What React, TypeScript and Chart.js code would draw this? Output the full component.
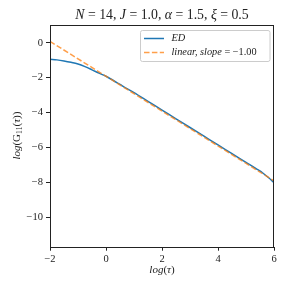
import React, { useEffect, useRef } from "react";
import { Chart, registerables } from "chart.js";
Chart.register(...registerables);

const edLogTau = [-2, -1.75, -1.5, -1.25, -1, -0.75, -0.5, -0.25, 0, 0.25, 0.5, 0.75, 1, 1.5, 2, 2.5, 3, 3.5, 4, 4.5, 5, 5.4, 5.6, 5.8, 6];
const edLogG = [-0.95, -0.98, -1.04, -1.12, -1.22, -1.37, -1.55, -1.74, -1.92, -2.15, -2.39, -2.63, -2.86, -3.36, -3.86, -4.36, -4.86, -5.36, -5.86, -6.36, -6.86, -7.26, -7.47, -7.73, -8.02];
const fitLogTau = [-2, 6];
const fitLogG = [0.08, -7.92];
const xTicks = [-2, 0, 2, 4, 6];
const yTicks = [-10, -8, -6, -4, -2, 0];

const FAMILY = "'Liberation Serif', 'DejaVu Serif', serif";
const BLUE = "#1f77b4";
const ORANGE = "rgba(255,127,14,0.75)";

type Seg = { t: string; it?: boolean; sub?: boolean };

function segFont(s: Seg, size: number) {
  return `${s.it ? "italic " : ""}${s.sub ? size * 0.7 : size}px ${FAMILY}`;
}

function drawRich(ctx: CanvasRenderingContext2D, segs: Seg[], x: number, y: number, size: number, align: "center" | "left") {
  let total = 0;
  const widths = segs.map((s) => {
    ctx.font = segFont(s, size);
    const w = ctx.measureText(s.t).width;
    total += w;
    return w;
  });
  let cx = align === "center" ? x - total / 2 : x;
  ctx.textBaseline = "middle";
  ctx.textAlign = "left";
  segs.forEach((s, i) => {
    ctx.font = segFont(s, size);
    ctx.fillText(s.t, cx, s.sub ? y + size * 0.25 : y);
    cx += widths[i];
  });
}

const decorPlugin = {
  id: "decor",
  afterDraw(chart: any) {
    const ctx: CanvasRenderingContext2D = chart.ctx;
    const a = chart.chartArea;
    ctx.save();
    ctx.strokeStyle = "#222";
    ctx.lineWidth = 1;
    ctx.strokeRect(Math.round(a.left) + 0.5, Math.round(a.top) + 0.5, Math.round(a.right - a.left) - 1, Math.round(a.bottom - a.top));
    ctx.fillStyle = "#222";
    const cx = (a.left + a.right) / 2;
    drawRich(
      ctx,
      [
        { t: "N", it: true }, { t: " = 14, " },
        { t: "J", it: true }, { t: " = 1.0, " },
        { t: "α", it: true }, { t: " = 1.5, " },
        { t: "ξ", it: true }, { t: " = 0.5" },
      ],
      cx, 15, 13.8, "center"
    );
    drawRich(ctx, [{ t: "log", it: true }, { t: "(" }, { t: "τ", it: true }, { t: ")" }], cx, 270, 11, "center");
    ctx.save();
    ctx.translate(17, (a.top + a.bottom) / 2);
    ctx.rotate(-Math.PI / 2);
    drawRich(
      ctx,
      [{ t: "log", it: true }, { t: "(G" }, { t: "11", sub: true }, { t: "(" }, { t: "τ", it: true }, { t: "))" }],
      0, 0, 11, "center"
    );
    ctx.restore();
    const lx = 140, ly = 30, lw = 129.5, lh = 31;
    ctx.fillStyle = "rgba(255,255,255,0.8)";
    ctx.strokeStyle = "#cccccc";
    ctx.beginPath();
    (ctx as any).roundRect(lx + 0.5, ly + 0.5, lw, lh, 2);
    ctx.fill();
    ctx.stroke();
    ctx.lineWidth = 1.5;
    ctx.strokeStyle = BLUE;
    ctx.setLineDash([]);
    ctx.beginPath();
    ctx.moveTo(144, 38.5);
    ctx.lineTo(164, 38.5);
    ctx.stroke();
    ctx.strokeStyle = ORANGE;
    ctx.setLineDash([5.5, 2.4]);
    ctx.beginPath();
    ctx.moveTo(144, 52.5);
    ctx.lineTo(164, 52.5);
    ctx.stroke();
    ctx.setLineDash([]);
    ctx.fillStyle = "#222";
    drawRich(ctx, [{ t: "ED", it: true }], 171.5, 38.5, 10.3, "left");
    drawRich(ctx, [{ t: "linear, slope", it: true }, { t: " = −1.00" }], 171.5, 52.5, 10.3, "left");
    ctx.restore();
  },
};

const fmt = (v: number) => (v < 0 ? "−" + Math.abs(v) : String(v));

export default function App() {
  const ref = useRef<HTMLCanvasElement | null>(null);
  useEffect(() => {
    if (!ref.current) return;
    const chart = new Chart(ref.current, {
      type: "scatter",
      data: {
        datasets: [
          {
            label: "linear, slope = −1.00",
            data: fitLogTau.map((x, i) => ({ x, y: fitLogG[i] })),
            showLine: true,
            borderColor: ORANGE,
            borderWidth: 1.5,
            borderDash: [5.5, 2.4],
            pointRadius: 0,
          },
          {
            label: "ED",
            data: edLogTau.map((x, i) => ({ x, y: edLogG[i] })),
            showLine: true,
            borderColor: BLUE,
            borderWidth: 1.5,
            pointRadius: 0,
            cubicInterpolationMode: "monotone",
          },
        ],
      },
      options: {
        animation: false,
        responsive: false,
        maintainAspectRatio: false,
        devicePixelRatio: 1,
        layout: { padding: { top: 24.5, right: 14, left: 0, bottom: 0 } },
        plugins: { legend: { display: false }, tooltip: { enabled: false }, title: { display: false } },
        scales: {
          x: {
            type: "linear",
            min: -2,
            max: 6,
            afterFit: (s: any) => { s.height = 41.3; },
            afterBuildTicks: (s: any) => { s.ticks = xTicks.map((v) => ({ value: v })); },
            ticks: { callback: (v: any) => fmt(Number(v)), font: { family: FAMILY, size: 10.5 }, color: "#222", padding: 2, maxRotation: 0 },
            grid: { drawOnChartArea: false, drawTicks: true, tickLength: 4, color: "#222" },
            border: { display: false },
          },
          y: {
            type: "linear",
            min: -11.7,
            max: 1.05,
            afterFit: (s: any) => { s.width = 50; },
            afterBuildTicks: (s: any) => { s.ticks = yTicks.map((v) => ({ value: v })); },
            ticks: { callback: (v: any) => fmt(Number(v)), font: { family: FAMILY, size: 10.5 }, color: "#222", padding: 3 },
            grid: { drawOnChartArea: false, drawTicks: true, tickLength: 4, color: "#222" },
            border: { display: false },
          },
        },
      },
      plugins: [decorPlugin],
    } as any);
    return () => chart.destroy();
  }, []);
  return (
    <div style={{ position: "fixed", left: 0, top: 0, width: 288, height: 288, background: "#fff" }}>
      <canvas ref={ref} width={288} height={288} style={{ width: 288, height: 288 }} />
    </div>
  );
}
